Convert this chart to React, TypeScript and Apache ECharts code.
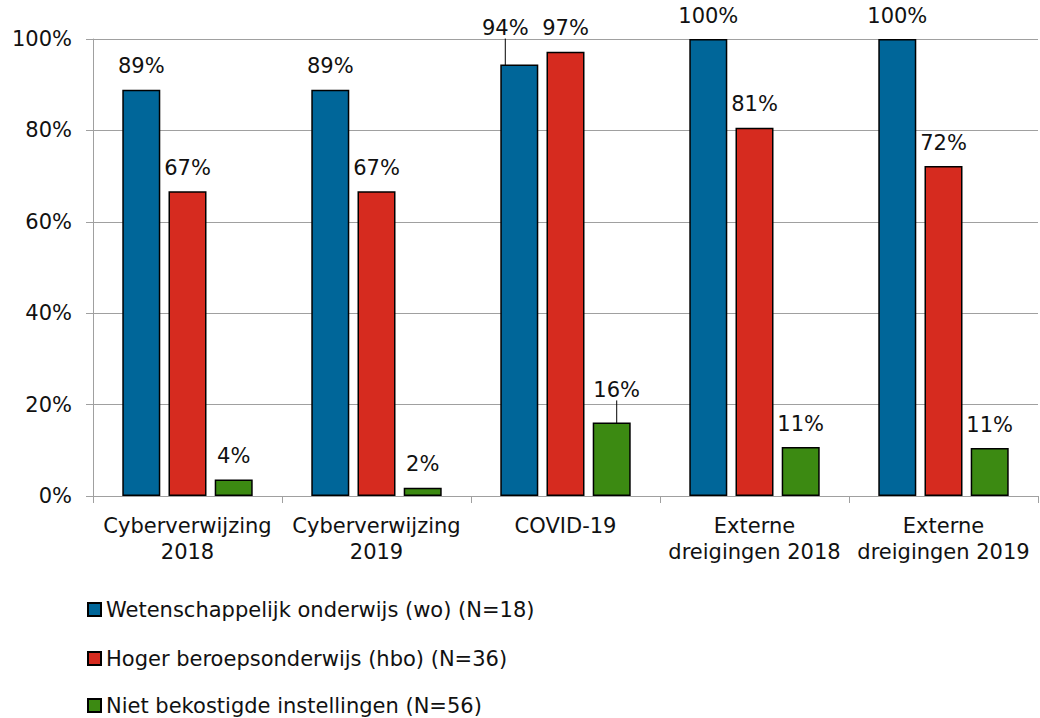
import React, { useEffect, useRef } from "react";
import * as echarts from "echarts";

const categories = [
  "Cyberverwijzing\n2018",
  "Cyberverwijzing\n2019",
  "COVID-19",
  "Externe\ndreigingen 2018",
  "Externe\ndreigingen 2019",
];
const seriesNames = [
  "Wetenschappelijk onderwijs (wo) (N=18)",
  "Hoger beroepsonderwijs (hbo) (N=36)",
  "Niet bekostigde instellingen (N=56)",
];
const woValues = [88.9, 88.9, 94.4, 100, 100];
const hboValues = [66.7, 66.7, 97.2, 80.6, 72.2];
const nbiValues = [3.6, 1.8, 16.1, 10.7, 10.5];
const yTicks = [0, 20, 40, 60, 80, 100];

const colors = ["#006699", "#d62b1f", "#3c8a12"];
const FONT = "DejaVu Sans";

export default function App() {
  const ref = useRef<HTMLDivElement>(null);
  useEffect(() => {
    if (!ref.current) return;
    const chart = echarts.init(ref.current, null, { renderer: "svg" });
    const labelBase = {
      show: true,
      position: "top",
      distance: 13,
      fontFamily: FONT,
      fontSize: 21,
      color: "#111",
      formatter: (p: any) => Math.round(p.value) + "%",
    };
    const mk = (i: number, values: number[], moves: Record<number, [number, number]>) => ({
      type: "bar",
      name: seriesNames[i],
      data: values.map((v, j) =>
        moves[j]
          ? { value: v, labelLine: { show: true, lineStyle: { color: "#000", width: 1 } } }
          : { value: v, labelLine: { show: false } }
      ),
      barWidth: 38,
      barGap: "21.6%",
      itemStyle: { color: colors[i], borderColor: "#000", borderWidth: 1.5 },
      label: labelBase,
      labelLine: { show: false, lineStyle: { color: "#000", width: 1 } },
      labelLayout: (params: any) => {
        const m = moves[params.dataIndex];
        if (!m) return {};
        return { dx: m[0], dy: m[1] };
      },
    });
    const legendTops = [599, 648, 695];
    chart.setOption({
      animation: false,
      grid: { left: 93, right: 2, top: 39, bottom: 222, containLabel: false },
      legend: seriesNames.map((n, i) => ({
        orient: "horizontal",
        left: 82,
        top: legendTops[i],
        padding: [0, 5, 0, 5],
        itemWidth: 13,
        itemHeight: 13,
        icon: "rect",
        textStyle: { fontFamily: FONT, fontSize: 21, color: "#111" },
        data: [n],
      })),
      xAxis: {
        type: "category",
        data: categories,
        axisLine: { lineStyle: { color: "#a0a0a0", width: 1 } },
        axisTick: { show: true, length: 7, lineStyle: { color: "#a0a0a0" } },
        axisLabel: {
          fontFamily: FONT,
          fontSize: 21,
          color: "#111",
          lineHeight: 26,
          margin: 17,
          interval: 0,
        },
      },
      yAxis: {
        type: "value",
        min: 0,
        max: 100,
        interval: 20,
        axisLine: { show: true, lineStyle: { color: "#a0a0a0", width: 1 } },
        axisTick: { show: true, length: 7, lineStyle: { color: "#a0a0a0" } },
        splitLine: { lineStyle: { color: "#a0a0a0", width: 1 } },
        axisLabel: {
          fontFamily: FONT,
          fontSize: 21,
          color: "#111",
          margin: 21,
          formatter: (v: number) => (yTicks.includes(v) ? v + "%" : ""),
        },
      },
      series: [
        mk(0, woValues, { 2: [-14, -13] }),
        mk(1, hboValues, {}),
        mk(2, nbiValues, { 2: [5, -9] }),
      ],
    });
    return () => chart.dispose();
  }, []);
  return (
    <div
      ref={ref}
      style={{ position: "absolute", left: 0, top: 0, width: 1040, height: 718 }}
    />
  );
}
